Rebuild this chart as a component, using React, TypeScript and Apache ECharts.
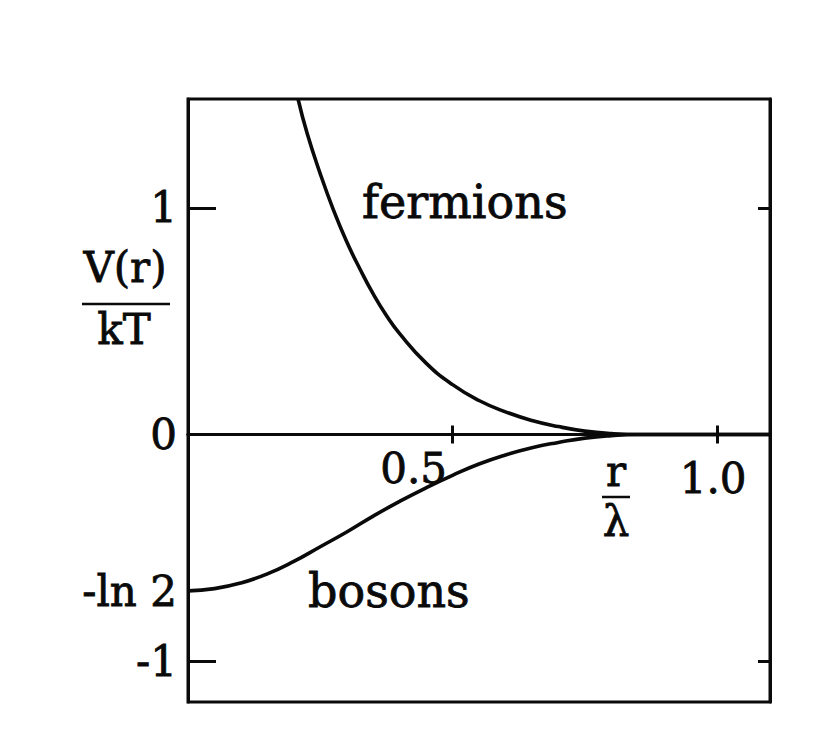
import React, { useEffect, useRef } from "react";
import * as echarts from "echarts";

// r/λ values and V(r)/kT values
const fermionX = [0.208, 0.225, 0.25, 0.275, 0.3, 0.325, 0.35, 0.375, 0.4, 0.45, 0.5, 0.55, 0.6, 0.65, 0.7, 0.75, 0.8, 0.85, 1.1];
const fermionY = [1.48, 1.33, 1.15, 0.99, 0.85, 0.73, 0.62, 0.525, 0.445, 0.315, 0.22, 0.15, 0.1, 0.062, 0.035, 0.015, 0.004, 0, 0];

const bosonX = [0, 0.05, 0.1, 0.15, 0.2, 0.25, 0.3, 0.35, 0.4, 0.45, 0.5, 0.55, 0.6, 0.65, 0.7, 0.75, 0.8, 0.85, 1.1];
const bosonY = [-0.69, -0.68, -0.655, -0.615, -0.56, -0.495, -0.43, -0.36, -0.295, -0.235, -0.18, -0.13, -0.09, -0.058, -0.035, -0.016, -0.005, 0, 0];

const xTickValues = [0.5, 1.0];
const xTickLabels = ["0.5", "1.0"];
const yTickValues = [1, 0, -0.693, -1];
const yTickLabels = ["1", "0", "-ln 2", "-1"];
const yTickMarks = [1, 0, -1];
const yRightTickMarks = [1, -1];

const FONT = '"DejaVu Serif", serif';
const INK = "#0a0a0a";

function pairs(xs: number[], ys: number[]) {
  return xs.map((x, i) => [x, ys[i]]);
}

function textEl(text: string, x: number, y: number, size: number, align: string) {
  return {
    type: "text",
    x,
    y,
    silent: true,
    style: {
      text,
      fill: INK,
      stroke: INK,
      lineWidth: 0.8,
      font: `${size}px ${FONT}`,
      align,
      textAlign: align,
      verticalAlign: "middle",
      textVerticalAlign: "middle",
    },
  };
}

export default function App() {
  const ref = useRef<HTMLDivElement>(null);
  useEffect(() => {
    document.body.style.margin = "0";
    if (!ref.current) return;
    const chart = echarts.init(ref.current, null, { renderer: "svg" });
    const yLabel = (v: number) => {
      const i = yTickValues.findIndex((t) => Math.abs(t - v) < 1e-6);
      return i < 0 ? "" : yTickLabels[i];
    };
    const staticGraphic = [
      textEl("V(r)", 125, 267, 42, "center"),
      { type: "line", silent: true, shape: { x1: 82, y1: 304, x2: 170, y2: 304 }, style: { stroke: INK, lineWidth: 2.5 } },
      textEl("kT", 124, 329, 42, "center"),
      textEl("r", 616, 471, 42, "center"),
      { type: "line", silent: true, shape: { x1: 602, y1: 497, x2: 630, y2: 497 }, style: { stroke: INK, lineWidth: 2.5 } },
      textEl("λ", 616, 521, 42, "center"),
      textEl("fermions", 362, 202, 46, "left"),
      textEl("bosons", 308, 591, 46, "left"),
    ];
    chart.setOption({
      animation: false,
      backgroundColor: "#fff",
      grid: {
        left: 188,
        right: 55,
        top: 99,
        bottom: 50,
        outerBoundsMode: "none",
        containLabel: false,
        show: true,
        borderColor: INK,
        borderWidth: 3,
        backgroundColor: "transparent",
      },
      xAxis: [
        {
          type: "value",
          position: "bottom",
          min: 0,
          max: 1.1,
          interval: 0.5,
          axisLine: { show: true, onZero: true, onZeroAxisIndex: 0, lineStyle: { color: INK, width: 3 } },
          axisTick: { show: true, inside: false, length: 9, customValues: xTickValues, lineStyle: { color: INK, width: 3 } },
          axisLabel: { show: false },
          splitLine: { show: false },
        },
        {
          type: "value",
          position: "top",
          min: 0,
          max: 1.1,
          interval: 0.5,
          axisLine: { show: true, onZero: true, onZeroAxisIndex: 1, lineStyle: { color: INK, width: 3 } },
          axisTick: { show: true, inside: false, length: 9, customValues: xTickValues, lineStyle: { color: INK, width: 3 } },
          axisLabel: { show: false },
          splitLine: { show: false },
        },
      ],
      yAxis: [
        {
          type: "value",
          position: "left",
          min: -1.18,
          max: 1.48,
          axisLine: { show: true, onZero: false, lineStyle: { color: INK, width: 3 } },
          axisTick: { show: true, inside: true, length: 28, customValues: yTickMarks, lineStyle: { color: INK, width: 3 } },
          axisLabel: {
            show: true,
            customValues: yTickValues,
            formatter: yLabel,
            margin: 11,
            fontFamily: FONT,
            fontSize: 42,
            color: INK,
            textBorderColor: INK,
            textBorderWidth: 0.8,
          },
          splitLine: { show: false },
        },
        {
          type: "value",
          position: "right",
          min: -1.18,
          max: 1.48,
          axisLine: { show: true, onZero: false, lineStyle: { color: INK, width: 3 } },
          axisTick: { show: true, inside: true, length: 12, customValues: yRightTickMarks, lineStyle: { color: INK, width: 3 } },
          axisLabel: { show: false },
          splitLine: { show: false },
        },
      ],
      series: [
        {
          name: "fermions",
          type: "line",
          data: pairs(fermionX, fermionY),
          smooth: 0.5,
          showSymbol: false,
          clip: true,
          lineStyle: { color: INK, width: 3.6 },
          itemStyle: { color: INK },
        },
        {
          name: "bosons",
          type: "line",
          data: pairs(bosonX, bosonY),
          smooth: 0.5,
          showSymbol: false,
          clip: true,
          lineStyle: { color: INK, width: 3.6 },
          itemStyle: { color: INK },
        },
      ],
      graphic: staticGraphic,
    });
    // x tick labels placed through the axis scale (offsets as in the reference)
    const labelOffsets = [
      [-39, 34],
      [-4, 44],
    ];
    const xLabels = xTickValues.map((v, i) => {
      const p = chart.convertToPixel({ xAxisIndex: 0, yAxisIndex: 0 }, [v, 0]) as number[];
      return textEl(xTickLabels[i], p[0] + labelOffsets[i][0], p[1] + labelOffsets[i][1], 42, "center");
    });
    chart.setOption({ graphic: [...staticGraphic, ...xLabels] }, { replaceMerge: ["graphic"] });
    return () => chart.dispose();
  }, []);
  return <div ref={ref} style={{ width: 825, height: 752 }} />;
}
